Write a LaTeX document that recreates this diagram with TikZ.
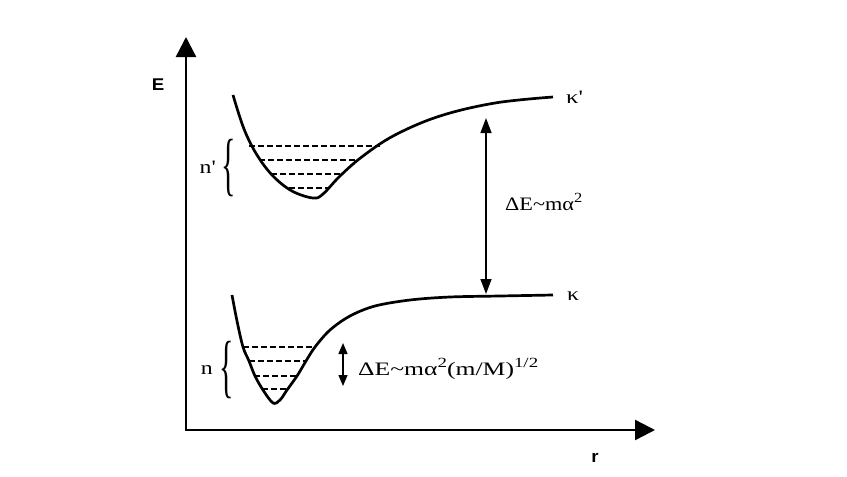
\documentclass[tikz,border=0pt]{standalone}
\usepackage{fontspec}
\setmainfont{Liberation Serif}
\newfontfamily\axfont{Liberation Sans}
\usetikzlibrary{arrows.meta}
\newcommand{\mysup}[1]{\raisebox{0.42em}{\fontsize{14}{14}\selectfont #1}}
\newcommand{\wide}[2]{\scalebox{#1}[1]{#2}}
\begin{document}
\begin{tikzpicture}[x=1pt,y=-1pt,
  axis/.style={line width=2.4pt,-{Triangle[length=20pt,width=20pt]}},
  curve/.style={line width=2.7pt,line join=round},
  level/.style={line width=1.8pt,dash pattern=on 6pt off 3pt},
  gap/.style={line width=1.4pt,{Triangle[length=15pt,width=11pt]}-{Triangle[length=15pt,width=11pt]}},
  smallgap/.style={line width=1.4pt,{Triangle[length=11pt,width=9pt]}-{Triangle[length=11pt,width=9pt]}},
  lbl/.style={inner sep=0pt,font=\fontsize{19}{21}\selectfont},
  axlbl/.style={inner sep=0pt,font=\axfont\bfseries\fontsize{17}{19}\selectfont},
  brace/.style={inner sep=0pt,font=\fontsize{24}{24}\selectfont}]
\useasboundingbox (0,0) rectangle (847,477);
% axes
\coordinate (O) at (186,430);
\coordinate (Etop) at (186,37);
\coordinate (Rend) at (655,430);
\draw[axis] (O) -- (Etop);
\draw[axis] ([xshift=-1.2pt]O) -- (Rend);
\node[axlbl] (E) at (158,85) {\wide{1.1}{E}};
\node[axlbl] (r) at (595,458) {\wide{1.1}{r}};
% upper curve
\draw[curve] plot[smooth,tension=0.6] coordinates {
 (233,95) (244,129) (257,155) (273,176) (292,191) (313,198)
 (323,194) (340,176) (363,156) (395,135) (440,116) (495,103) (553,97)};
% upper levels
\draw[level] (249,146) -- (380,146);
\draw[level] (259,160) -- (358,160);
\draw[level] (271,174) -- (343,174);
\draw[level] (289,188) -- (328,188);
% lower curve
\draw[curve] plot[smooth,tension=0.55] coordinates {
 (232,295) (237,321) (243,347) (249,361) (255,376) (263,390) (273,403)
 (280,400) (287,390) (297,376) (306,361) (315,347) (330,330) (350,316)
 (375,306) (410,300) (450,297) (500,296) (553,295)};
% lower levels
\draw[level] (243,347) -- (315,347);
\draw[level] (249,361) -- (306,361);
\draw[level] (254,376) -- (297,376);
\draw[level] (262,389) -- (287,389);
% braces and labels
\node[brace] (bu) at (229,168) {\scalebox{1.25}[2.9]{\{}};
\node[lbl,anchor=east] (nu) at (216,167) {\wide{1.25}{n\textquotesingle}};
\node[brace] (bl) at (227,370) {\scalebox{1.25}[2.9]{\{}};
\node[lbl,anchor=east] (nl) at (213,370) {\wide{1.25}{n}};
% kappa labels
\node[lbl,anchor=west] (ku) at (566,97) {\wide{1.3}{κ\textquotesingle}};
\node[lbl,anchor=west] (kl) at (567,296) {\wide{1.25}{κ}};
% energy gaps
\coordinate (g1) at (486,118);
\coordinate (g2) at (486,294);
\draw[gap] (g1) -- (g2);
\node[lbl,anchor=west] (dE) at (505,202) {\wide{1.17}{ΔE\char`\~mα\mysup{2}}};
\coordinate (s1) at (343,343);
\coordinate (s2) at (343,386);
\draw[smallgap] (s1) -- (s2);
\node[lbl,anchor=west] (dEs) at (358,369) {\wide{1.35}{ΔE\char`\~mα\mysup{2}(m/M)\mysup{1/2}}};
\end{tikzpicture}
\end{document}
